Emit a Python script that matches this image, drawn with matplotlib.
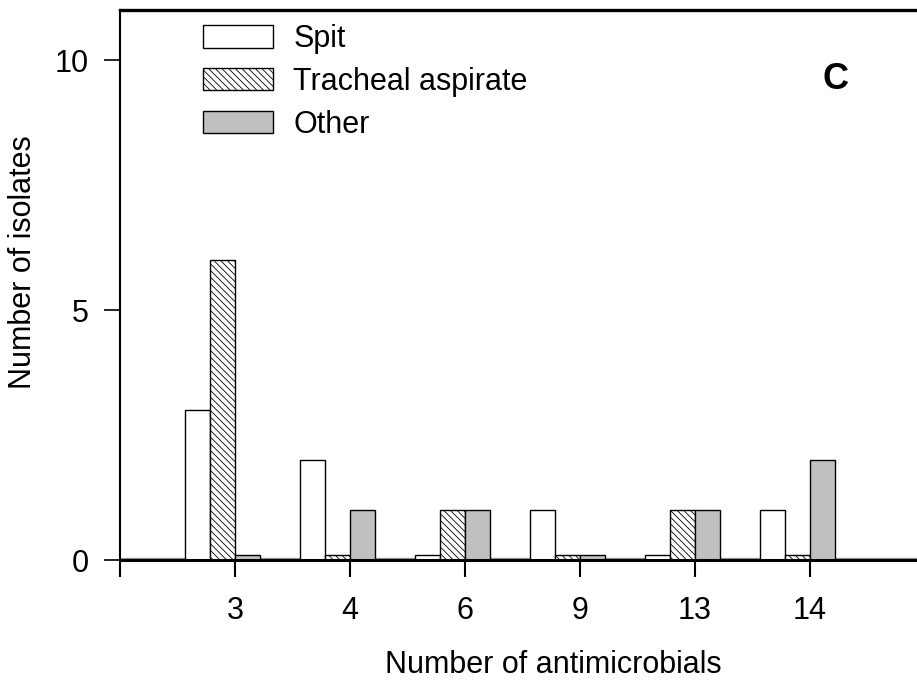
import matplotlib
matplotlib.use('Agg')
import matplotlib.pyplot as plt
import numpy as np

# ---- data ----
categories = ['3', '4', '6', '9', '13', '14']
spit = [3, 2, 0.1, 1, 0.1, 1]
tracheal = [6, 0.1, 1, 0.1, 1, 0.1]
other = [0.1, 1, 1, 0.1, 1, 2]
series_names = ['Spit', 'Tracheal aspirate', 'Other']
y_ticks = [0, 5, 10]

plt.rcParams['font.family'] = ['Liberation Sans', 'DejaVu Sans']
plt.rcParams['hatch.linewidth'] = 0.6

W, H = 917, 682
fig = plt.figure(figsize=(W / 100, H / 100), dpi=100)
ax_l, ax_r, ax_t, ax_b = 120, 917, 10, 560
ax = fig.add_axes([ax_l / W, (H - ax_b) / H, (ax_r - ax_l) / W, (ax_b - ax_t) / H])


def px2ax(xp, yp):
    return (xp - ax_l) / (ax_r - ax_l), (ax_b - yp) / (ax_b - ax_t)


group_px, bar_px = 115, 25
w = bar_px / group_px
x = np.arange(len(categories))

b1 = ax.bar(x - 1.5 * w, spit, w, facecolor='white', edgecolor='black', linewidth=1.0,
            label=series_names[0], zorder=2)
b2 = ax.bar(x - 0.5 * w, tracheal, w, facecolor='white', edgecolor='black', linewidth=1.0,
            hatch='\\\\\\\\\\', label=series_names[1], zorder=2)
b3 = ax.bar(x + 0.5 * w, other, w, facecolor='#c0c0c0', edgecolor='black', linewidth=1.0,
            label=series_names[2], zorder=2)
ax.axhline(0.035, color='#9a9a9a', lw=1.0, zorder=1)

ax.set_xlim(-1, -1 + (ax_r - ax_l) / group_px)
ax.set_ylim(0, 11)
ax.set_xticks(np.concatenate([[-1], x]))
ax.set_xticklabels([''] + categories)
ax.set_yticks(y_ticks)

ax.spines['right'].set_visible(False)
ax.spines['left'].set_linewidth(1.5)
ax.spines['bottom'].set_linewidth(2.2)
ax.spines['top'].set_linewidth(2.4)
ax.spines['bottom'].set_zorder(3)

ax.tick_params(axis='y', direction='out', length=11.5, width=1.2, labelsize=22, pad=11)
ax.tick_params(axis='x', direction='out', length=12, width=1.5, labelsize=22, pad=14)

ax.set_xlabel('Number of antimicrobials', fontsize=22)
ax.xaxis.label.set_ha('left')
ax.xaxis.label.set_va('baseline')
ax.xaxis.set_label_coords(*px2ax(385, 673))

ax.set_ylabel('Number of isolates', fontsize=22)
ax.yaxis.label.set_va('center')
ax.yaxis.set_label_coords(*px2ax(23, 262))

ax.text(*px2ax(835, 89), 'C', transform=ax.transAxes, fontsize=26, fontweight='bold',
        ha='center', va='baseline')

leg = ax.legend(handles=[b1, b2, b3], labels=series_names, loc='upper left',
                bbox_to_anchor=px2ax(203, 24), bbox_transform=ax.transAxes,
                frameon=False, fontsize=22, handlelength=2.3, handleheight=0.75,
                handletextpad=0.65, labelspacing=0.42, borderaxespad=0, borderpad=0)

fig.savefig('out.png', dpi=100)
